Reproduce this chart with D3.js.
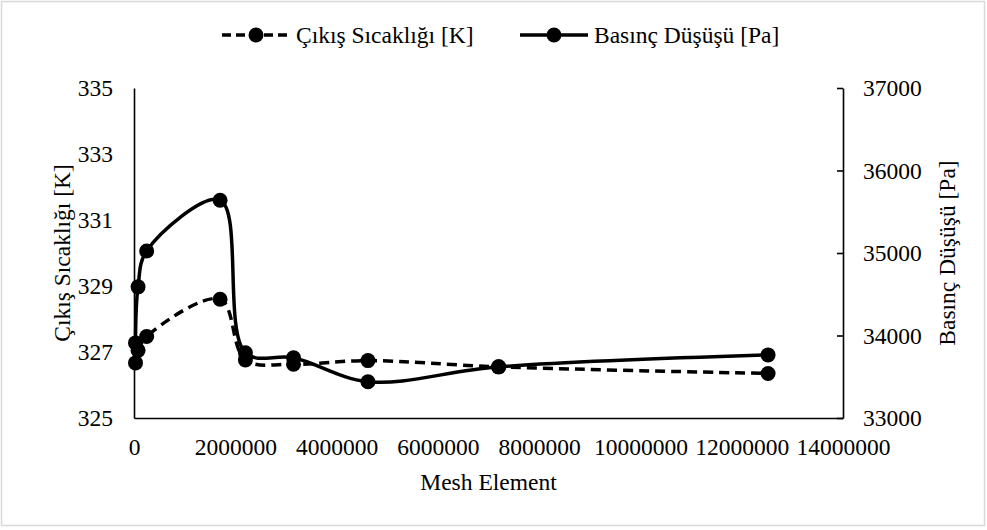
<!DOCTYPE html>
<html>
<head>
<meta charset="utf-8">
<script src="https://cdn.jsdelivr.net/npm/d3@7"></script>
</head>
<body style="margin:0;background:#fff">
<svg id="chart" width="987" height="530" style="display:block;font-family:'Liberation Serif','Times New Roman',Tinos,Times;"></svg>
<script>
// Mesh independence study: outlet temperature and pressure drop vs element count
const meshElements = [30000, 80000, 250000, 1700000, 2200000, 3150000, 4620000, 7200000, 12520000];
const outletTemp   = [326.67, 327.05, 327.47, 328.60, 326.76, 326.63, 326.74, 326.55, 326.35];
const pressureDrop = [33910, 34590, 35025, 35640, 33790, 33730, 33440, 33620, 33765];

const xTicks     = [0, 2000000, 4000000, 6000000, 8000000, 10000000, 12000000, 14000000];
const tempTicks  = [325, 327, 329, 331, 333, 335];
const presTicks  = [33000, 34000, 35000, 36000, 37000];

const seriesNames = ["Çıkış Sıcaklığı [K]", "Basınç Düşüşü [Pa]"];
const xTitle = "Mesh Element";

const W = 987, H = 530;
const plot = { left: 134, right: 843, top: 88, bottom: 418 };
const FS = 23.5;
const FONT = "Liberation Serif";

const svg = d3.select("#chart");

// chart frame
svg.append("rect")
  .attr("x", 1.5).attr("y", 1.5).attr("width", W - 4).attr("height", H - 6)
  .attr("fill", "#fff").attr("stroke", "#d9d9d9").attr("stroke-width", 1.5);

const x  = d3.scaleLinear().domain([0, 14000000]).range([plot.left, plot.right]);
const yL = d3.scaleLinear().domain([325, 335]).range([plot.bottom, plot.top]);
const yR = d3.scaleLinear().domain([33000, 37000]).range([plot.bottom, plot.top]);

function styleText(sel) {
  return sel.attr("font-family", FONT)
    .style("font-family", `"${FONT}"`)
    .style("font-size", `${FS}px`)
    .attr("fill", "#000");
}

function styleAxis(g) {
  g.attr("font-family", FONT).attr("font-size", FS);
  g.selectAll(".domain").attr("stroke", "#000").attr("stroke-width", 1.6);
  g.selectAll(".tick line").attr("stroke", "#000").attr("stroke-width", 1.6);
  styleText(g.selectAll("text"));
}

// left axis (temperature)
svg.append("g")
  .attr("transform", `translate(${plot.left},0)`)
  .call(d3.axisLeft(yL).tickValues(tempTicks).tickSize(0).tickPadding(21).tickFormat(d3.format("d")))
  .call(styleAxis);

// right axis (pressure drop), ticks pointing inward
svg.append("g")
  .attr("transform", `translate(${plot.right},0)`)
  .call(d3.axisRight(yR).tickValues(presTicks).tickSizeInner(-6).tickSizeOuter(0).tickPadding(20).tickFormat(d3.format("d")))
  .call(styleAxis);

// bottom axis (mesh elements)
svg.append("g")
  .attr("transform", `translate(0,${plot.bottom})`)
  .call(d3.axisBottom(x).tickValues(xTicks).tickSize(0).tickPadding(20).tickFormat(d3.format("d")))
  .call(styleAxis);

// axis titles
styleText(svg.append("text")
  .attr("x", (plot.left + plot.right) / 2).attr("y", 490)
  .attr("text-anchor", "middle")
  .text(xTitle));

styleText(svg.append("text")
  .attr("transform", `translate(70,${(plot.top + plot.bottom) / 2}) rotate(-90)`)
  .attr("text-anchor", "middle")
  .text(seriesNames[0]));

styleText(svg.append("text")
  .attr("transform", `translate(955,${(plot.top + plot.bottom) / 2}) rotate(-90)`)
  .attr("text-anchor", "middle")
  .text(seriesNames[1]));

// series
const tempData = meshElements.map((m, i) => ({ m, v: outletTemp[i] }));
const presData = meshElements.map((m, i) => ({ m, v: pressureDrop[i] }));

const curve = d3.curveCatmullRom.alpha(0.5);
const DASH = "10,6";
const LW = 3.5;
const R = 7.5;

svg.append("path")
  .datum(tempData)
  .attr("fill", "none").attr("stroke", "#000").attr("stroke-width", LW)
  .attr("stroke-dasharray", DASH)
  .attr("d", d3.line().x(d => x(d.m)).y(d => yL(d.v)).curve(curve));

svg.append("path")
  .datum(presData)
  .attr("fill", "none").attr("stroke", "#000").attr("stroke-width", LW)
  .attr("d", d3.line().x(d => x(d.m)).y(d => yR(d.v)).curve(curve));

svg.append("g").selectAll("circle")
  .data(tempData).join("circle")
  .attr("cx", d => x(d.m)).attr("cy", d => yL(d.v)).attr("r", R).attr("fill", "#000");

svg.append("g").selectAll("circle")
  .data(presData).join("circle")
  .attr("cx", d => x(d.m)).attr("cy", d => yR(d.v)).attr("r", R).attr("fill", "#000");

// legend
const legend = [
  { name: seriesNames[0], x0: 222, dash: "9,5" },
  { name: seriesNames[1], x0: 520, dash: null }
];
const ly = 35;
legend.forEach(it => {
  const g = svg.append("g");
  g.append("line")
    .attr("x1", it.x0).attr("x2", it.x0 + 68).attr("y1", ly).attr("y2", ly)
    .attr("stroke", "#000").attr("stroke-width", LW)
    .attr("stroke-dasharray", it.dash);
  g.append("circle").attr("cx", it.x0 + 34).attr("cy", ly).attr("r", R).attr("fill", "#000");
  styleText(g.append("text").attr("x", it.x0 + 74).attr("y", ly + 8))
    .text(it.name);
});
</script>
</body>
</html>
